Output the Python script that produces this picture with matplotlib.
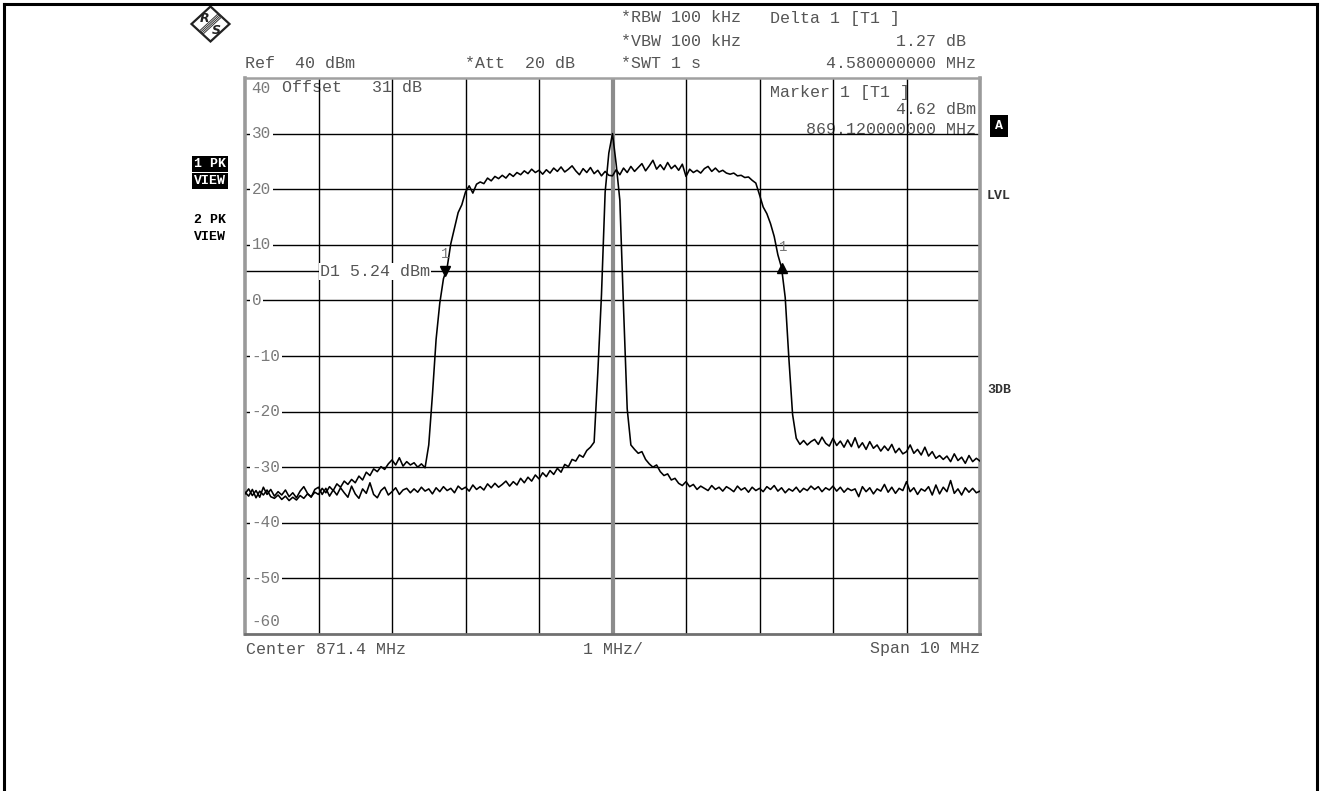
import numpy as np
import matplotlib
matplotlib.use("Agg")
import matplotlib.pyplot as plt
from matplotlib.lines import Line2D
from matplotlib.patches import Polygon
from matplotlib.transforms import blended_transform_factory

W, H = 1321, 791
MONO = "Liberation Mono"

# analyzer settings
center_mhz = 871.4
span_mhz = 10.0
ref_dbm = 40
offset_db = 31
db_per_div = 10
y_bottom = -60

# trace 1: wideband channel (max hold)
trace1 = [
    -34.5, -35.2, -34.0, -35.5, -34.3, -35.0, -34.1, -35.3, -35.6, -35.0,
    -35.8, -35.2, -36.0, -35.4, -35.9, -35.1, -35.6, -34.8, -35.3, -34.5,
    -34.9, -33.8, -34.6, -33.5, -34.2, -33.0, -33.6, -32.5, -33.1, -32.2,
    -32.8, -31.6, -32.3, -30.9, -31.5, -30.3, -30.8, -29.9, -30.4, -29.4,
    -28.7, -29.6, -28.3, -29.8, -29.0, -29.6, -29.2, -30.0, -29.4, -30.1,
    -26.0, -17.0, -7.0, -0.5, 3.9, 5.9, 10.2, 13.0, 15.8, 17.2,
    19.5, 20.6, 19.3, 20.9, 21.3, 21.0, 22.0, 21.5, 22.3, 21.9,
    22.5, 22.0, 22.8, 22.3, 23.0, 22.6, 23.3, 22.8, 23.6, 23.0,
    23.4, 22.7, 23.5, 22.9, 23.8, 23.2, 24.0, 23.1, 23.6, 24.2,
    23.3, 22.6, 23.7, 23.0, 23.9, 22.8, 23.4, 22.4, 23.2, 22.5,
    22.4, 23.5, 22.6, 23.8, 23.0, 24.1, 23.2, 23.9, 24.6, 23.3,
    24.2, 25.2, 23.6, 24.4, 23.5, 24.8, 23.7, 24.3, 23.4, 24.5,
    22.3, 23.6, 23.0, 23.4, 22.9, 23.7, 24.1, 23.2, 23.8, 23.1,
    23.4, 22.9, 22.7, 22.9, 22.4, 22.5, 22.1, 22.2, 21.6, 21.1,
    19.0, 16.8, 15.6, 13.8, 11.5, 8.2, 5.89, 0.5, -10.5, -20.5,
    -24.8, -25.9, -25.2, -26.0, -25.4, -25.0, -25.9, -24.6, -25.7, -26.2,
    -24.8, -26.1, -25.3, -26.4, -25.1, -26.3, -24.7, -26.5, -25.6, -26.8,
    -25.4, -26.6, -26.0, -27.1, -26.2, -27.0, -25.9, -27.4, -26.6, -27.6,
    -27.2, -26.0, -27.5, -26.8, -27.8, -26.4, -28.0, -27.2, -28.4, -27.9,
    -28.6, -28.0, -29.0, -27.6, -28.8, -28.2, -29.3, -27.9, -29.0, -28.4, -28.9,
]

# trace 2: narrowband carrier
trace2 = [
    -34.8, -33.9, -35.1, -34.2, -35.4, -33.6, -34.9, -34.0, -35.2, -34.4,
    -35.0, -34.1, -35.3, -34.6, -35.5, -34.3, -33.5, -34.7, -35.4, -34.0,
    -33.6, -34.9, -33.8, -35.2, -34.1, -35.0, -33.7, -34.6, -35.4, -33.4,
    -34.8, -35.6, -33.9, -34.7, -32.8, -34.9, -35.5, -34.2, -33.6, -35.0,
    -34.4, -33.7, -34.9, -34.1, -33.8, -34.6, -33.9, -34.5, -33.6, -34.3,
    -33.9, -34.8, -33.7, -34.4, -33.5, -34.2, -33.8, -34.6, -33.4, -34.0,
    -33.6, -34.3, -33.2, -34.0, -33.5, -34.1, -33.0, -33.7, -32.9, -33.6,
    -33.1, -32.5, -33.4, -32.6, -33.2, -32.0, -32.8, -31.8, -32.5, -31.4,
    -32.1, -31.0, -31.7, -30.6, -31.3, -30.2, -30.9, -29.5, -29.9, -28.6,
    -28.9, -27.8, -28.2, -27.0, -26.4, -25.5, -13.0, 1.0, 19.5, 26.5,
    30.0, 24.5, 18.0, -1.3, -19.5, -26.0, -26.8, -27.5, -27.2, -28.6,
    -29.4, -30.0, -29.6, -30.8, -31.5, -31.2, -32.3, -32.0, -32.9, -33.3,
    -32.6, -33.5, -33.1, -34.0, -33.4, -33.8, -34.2, -33.3, -34.0, -33.6,
    -34.3, -33.5, -33.9, -34.4, -33.4, -34.1, -33.7, -34.5, -33.6, -34.2,
    -33.8, -34.4, -33.5, -34.0, -33.3, -34.3, -33.7, -34.6, -33.9, -34.3,
    -33.6, -34.5, -33.8, -34.2, -33.4, -34.0, -33.5, -34.4, -33.7, -34.1,
    -33.4, -34.3, -33.6, -34.5, -33.8, -34.2, -33.9, -35.3, -33.5, -34.4,
    -33.7, -34.8, -33.9, -34.3, -33.1, -34.5, -33.6, -34.7, -33.8, -34.2,
    -32.6, -34.4, -33.7, -34.9, -33.9, -34.3, -33.5, -35.0, -33.2, -34.8,
    -33.6, -34.4, -32.4, -34.7, -33.9, -35.0, -33.7, -34.5, -33.8, -34.6, -34.3,
]

# markers
marker1_mhz = 869.12
marker1_dbm = 4.62
delta1_mhz = 4.58
delta1_db = 1.27
d1_dbm = 5.24

level_ticks = [30, 20, 10, 0, -10, -20, -30, -40, -50]


def fx(px):
    return px / W


def fy(py):
    return 1 - py / H


f_start = center_mhz - span_mhz / 2
f_stop = center_mhz + span_mhz / 2
freq = np.linspace(f_start, f_stop, len(trace1))

fig = plt.figure(figsize=(W / 100, H / 100), dpi=100)
ax = fig.add_axes([fx(245), fy(634), fx(980) - fx(245), fy(78) - fy(634)])
ax.set_xlim(f_start, f_stop)
ax.set_ylim(y_bottom, ref_dbm)
ax.set_xticks([])
ax.set_yticks([])

for side, col, lw in [("left", "#9a9a9a", 2.6), ("right", "#9a9a9a", 2.6),
                      ("top", "#a0a0a0", 1.8), ("bottom", "#707070", 2.0)]:
    ax.spines[side].set_color(col)
    ax.spines[side].set_linewidth(lw)

# graticule
for lv in level_ticks:
    ax.axhline(lv, color="black", lw=1.0, zorder=2)
for k in range(1, 10):
    f = f_start + k * span_mhz / 10
    if k == 5:
        ax.axvline(f, color="#8c8c8c", lw=3.0, zorder=2)
    else:
        ax.axvline(f, color="black", lw=1.0, zorder=2)

# display line D1
ax.axhline(d1_dbm, color="black", lw=1.0, zorder=2)

ax.plot(freq, trace1, color="black", lw=1.15, zorder=3)
ax.plot(freq, trace2, color="black", lw=1.15, zorder=3)

# markers
ax.plot([marker1_mhz], [marker1_dbm + 0.6], marker="v", ms=7, color="black", zorder=4)
ax.plot([marker1_mhz + delta1_mhz], [marker1_dbm + delta1_db], marker="^", ms=7,
        color="black", zorder=4)
ax.annotate("1", (marker1_mhz, marker1_dbm), xytext=(0, 10), textcoords="offset points",
            ha="center", va="bottom", fontsize=10, color="#777777", family=MONO, zorder=4)
ax.annotate("1", (marker1_mhz + delta1_mhz, marker1_dbm + delta1_db), xytext=(1, 10),
            textcoords="offset points", ha="center", va="bottom", fontsize=10,
            color="#777777", family=MONO, zorder=4)

# level labels on the graticule
bt = blended_transform_factory(ax.transAxes, ax.transData)
lab_x = 6.5 / 735
for lv in level_ticks:
    ax.text(lab_x, lv, str(lv), transform=bt, ha="left", va="center", fontsize=11.5,
            color="#7a7a7a", family=MONO, zorder=5,
            bbox=dict(boxstyle="square,pad=0.12", fc="white", ec="none"))
ax.text(lab_x, ref_dbm - 1.8, str(ref_dbm), transform=bt, ha="left", va="center",
        fontsize=11.5, color="#7a7a7a", family=MONO, zorder=1)
ax.text(lab_x, y_bottom + 2.2, str(y_bottom), transform=bt, ha="left", va="center",
        fontsize=11.5, color="#7a7a7a", family=MONO, zorder=5)
ax.text(75 / 735, d1_dbm, f"D1 {d1_dbm:.2f} dBm", transform=bt, ha="left", va="center",
        fontsize=12, color="#555555", family=MONO, zorder=5,
        bbox=dict(boxstyle="square,pad=0.05", fc="white", ec="none"))

# texts inside the graticule, drawn beneath the grid lines
inner = dict(transform=ax.transAxes, va="center", fontsize=12, color="#555555",
             family=MONO, zorder=1)
ax.text(37 / 735, 1 - 10 / 556, f"Offset   {offset_db} dB", ha="left", **inner)
ax.text(525 / 735, 1 - 15 / 556, "Marker 1 [T1 ]", ha="left", **inner)
ax.text(731 / 735, 1 - 32 / 556, f"{marker1_dbm:.2f} dBm", ha="right", **inner)
ax.text(731 / 735, 1 - 52 / 556, f"{marker1_mhz:.9f} MHz", ha="right", **inner)

# header
hdr = dict(fontsize=12, color="#555555", family=MONO, va="center")
fig.text(fx(245), fy(64), f"Ref  {ref_dbm} dBm", ha="left", **hdr)
fig.text(fx(465), fy(64), "*Att  20 dB", ha="left", **hdr)
fig.text(fx(621), fy(18), "*RBW 100 kHz", ha="left", **hdr)
fig.text(fx(621), fy(41), "*VBW 100 kHz", ha="left", **hdr)
fig.text(fx(621), fy(64), "*SWT 1 s", ha="left", **hdr)
fig.text(fx(770), fy(18), "Delta 1 [T1 ]", ha="left", **hdr)
fig.text(fx(966), fy(41), f"{delta1_db:.2f} dB", ha="right", **hdr)
fig.text(fx(976), fy(64), f"{delta1_mhz:.9f} MHz", ha="right", **hdr)

# footer
fig.text(fx(246), fy(649), f"Center {center_mhz} MHz", ha="left", **hdr)
fig.text(fx(583), fy(649), f"{span_mhz / 10:.0f} MHz/", ha="left", **hdr)
fig.text(fx(980), fy(649), f"Span {span_mhz:.0f} MHz", ha="right", **hdr)

# side annotations
side = dict(fontsize=9.5, family=MONO, weight="bold", va="center")
box = dict(boxstyle="square,pad=0.12", fc="black", ec="none")
fig.text(fx(194), fy(164), "1 PK", color="white", ha="left", bbox=box, **side)
fig.text(fx(194), fy(181), "VIEW", color="white", ha="left", bbox=box, **side)
fig.text(fx(194), fy(220), "2 PK", color="black", ha="left", **side)
fig.text(fx(194), fy(237), "VIEW", color="black", ha="left", **side)
fig.text(fx(999), fy(126), "A", color="white", ha="center",
         bbox=dict(boxstyle="square,pad=0.35", fc="black", ec="none"), **side)
fig.text(fx(987), fy(196), "LVL", color="#333333", ha="left", **side)
fig.text(fx(987), fy(390), "3DB", color="#333333", ha="left", **side)

# R&S logo
cx, cy, hw, hh = 210.5, 24.0, 19.0, 17.5
diamond = [(cx - hw, cy), (cx, cy - hh), (cx + hw, cy), (cx, cy + hh)]
fig.add_artist(Polygon([(fx(x), fy(y)) for x, y in diamond], closed=True, fc="white",
                       ec="#222222", lw=1.6, transform=fig.transFigure))
for off in (-2.4, -0.8, 0.8, 2.4):
    x0, y0 = cx + hw / 2 + off * 0.7, cy - hh / 2 + off * 0.7
    x1, y1 = cx - hw / 2 + off * 0.7, cy + hh / 2 + off * 0.7
    fig.add_artist(Line2D([fx(x0), fx(x1)], [fy(y0), fy(y1)], color="#333333", lw=0.7,
                          transform=fig.transFigure))
fig.text(fx(cx - 6), fy(cy - 6), "R", ha="center", va="center", fontsize=9,
         style="italic", weight="bold", family="DejaVu Sans", color="#222222")
fig.text(fx(cx + 6), fy(cy + 7), "S", ha="center", va="center", fontsize=9,
         style="italic", weight="bold", family="DejaVu Sans", color="#222222")

# page frame
for xs, ys in [([4, 4], [4, H]), ([4, 1317], [4, 4]), ([1317, 1317], [4, H])]:
    fig.add_artist(Line2D([fx(x) for x in xs], [fy(y) for y in ys], color="black", lw=2.2,
                          transform=fig.transFigure))

fig.savefig("out.png", dpi=100)
